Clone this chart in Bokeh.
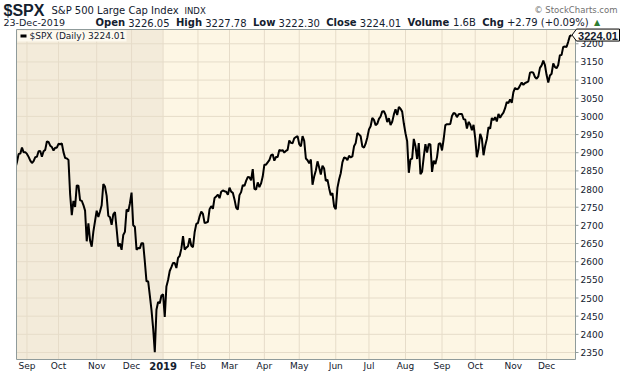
import numpy as np
from bokeh.plotting import figure
from bokeh.models import Range1d, ColumnDataSource
from bokeh.core.properties import value
from bokeh.embed import file_html
from bokeh.resources import INLINE

# ---------------- data ----------------
START = "2018-08-23"
END = "2019-12-23"
HOLIDAYS = ["2018-09-03", "2018-11-22", "2018-12-05", "2018-12-25", "2019-01-01",
            "2019-01-21", "2019-02-18", "2019-04-19", "2019-05-27", "2019-07-04",
            "2019-09-02", "2019-11-28"]

close_2018_08 = [2856.98, 2874.69, 2896.74, 2897.52, 2914.04, 2901.13, 2901.52]
close_2018_09 = [2896.72, 2888.60, 2878.05, 2871.68, 2877.13, 2887.89, 2888.92, 2904.18,
                 2904.98, 2888.80, 2904.31, 2907.95, 2930.75, 2929.67, 2919.37, 2915.56,
                 2905.97, 2914.00, 2913.98]
close_2018_10 = [2924.59, 2923.43, 2925.51, 2901.61, 2885.57, 2884.43, 2880.34, 2785.68,
                 2728.37, 2767.13, 2750.79, 2809.92, 2809.21, 2768.78, 2767.78, 2755.88,
                 2740.69, 2656.10, 2705.57, 2658.69, 2641.25, 2682.63, 2711.74]
close_2018_11 = [2740.37, 2723.06, 2738.31, 2755.45, 2813.89, 2806.83, 2781.01, 2726.22,
                 2722.18, 2701.58, 2730.20, 2736.27, 2690.73, 2641.89, 2649.93, 2632.56,
                 2673.45, 2682.17, 2743.79, 2737.80, 2760.17]
close_2018_12 = [2790.37, 2700.06, 2695.95, 2633.08, 2637.72, 2636.78, 2651.07, 2650.54,
                 2599.95, 2545.94, 2546.16, 2506.96, 2467.42, 2416.62, 2351.10, 2467.70,
                 2488.83, 2485.74, 2506.85]
close_2019_01 = [2510.03, 2447.89, 2531.94, 2549.69, 2574.41, 2584.96, 2596.64, 2596.26,
                 2582.61, 2610.30, 2616.10, 2635.96, 2670.71, 2632.90, 2638.70, 2642.33,
                 2664.76, 2643.85, 2640.00, 2681.05, 2704.10]
close_2019_02 = [2706.53, 2724.87, 2737.70, 2731.61, 2706.05, 2707.88, 2709.80, 2744.73,
                 2753.03, 2745.73, 2775.60, 2779.76, 2784.70, 2774.88, 2792.67, 2796.11,
                 2793.90, 2792.38, 2784.49]
close_2019_03 = [2803.69, 2792.81, 2789.65, 2771.45, 2748.93, 2743.07, 2783.30, 2791.52,
                 2810.92, 2808.48, 2822.48, 2832.94, 2832.57, 2824.23, 2854.88, 2800.71,
                 2798.36, 2818.46, 2805.37, 2815.44, 2834.40]
close_2019_04 = [2867.19, 2867.24, 2873.40, 2879.39, 2892.74, 2895.77, 2878.20, 2888.21,
                 2888.32, 2907.41, 2905.58, 2907.06, 2900.45, 2905.03, 2907.97, 2933.68,
                 2927.25, 2926.17, 2939.88, 2943.03, 2945.83]
close_2019_05 = [2923.73, 2917.52, 2945.64, 2932.47, 2884.05, 2879.42, 2870.72, 2881.40,
                 2811.87, 2834.41, 2850.96, 2876.32, 2859.53, 2840.23, 2864.36, 2856.27,
                 2822.24, 2826.06, 2802.39, 2783.02, 2788.86, 2752.06]
close_2019_06 = [2744.45, 2803.27, 2826.15, 2843.49, 2873.34, 2886.73, 2885.72, 2879.84,
                 2891.64, 2886.98, 2889.67, 2917.75, 2926.46, 2954.18, 2950.46, 2945.35,
                 2917.38, 2913.78, 2924.92, 2941.76]
close_2019_07 = [2964.33, 2973.01, 2995.82, 2990.41, 2975.95, 2979.63, 2993.07, 2999.91,
                 3013.77, 3014.30, 3004.04, 2984.42, 2995.11, 2976.61, 2985.03, 3005.47,
                 3019.56, 3003.67, 3025.86, 3020.97, 3013.18, 2980.38]
close_2019_08 = [2953.56, 2932.05, 2844.74, 2881.77, 2883.98, 2938.09, 2918.65, 2882.70,
                 2926.32, 2840.60, 2847.60, 2888.68, 2923.65, 2900.51, 2924.43, 2922.95,
                 2847.11, 2878.38, 2869.16, 2887.94, 2924.58, 2926.46]
close_2019_09 = [2906.27, 2937.78, 2976.00, 2978.71, 2978.43, 2979.39, 3000.93, 3009.57,
                 3007.39, 2997.96, 3005.70, 3006.73, 3006.79, 2992.07, 2991.78, 2966.60,
                 2984.87, 2977.62, 2961.79, 2976.74]
close_2019_10 = [2940.25, 2887.61, 2910.63, 2952.01, 2938.79, 2893.06, 2919.40, 2938.13,
                 2970.27, 2966.15, 2995.68, 2989.69, 2997.95, 2986.20, 3006.72, 2995.99,
                 3004.52, 3010.29, 3022.55, 3039.42, 3036.89, 3046.77, 3037.56]
close_2019_11 = [3066.91, 3078.27, 3074.62, 3076.78, 3085.18, 3093.08, 3087.01, 3091.84,
                 3094.04, 3096.63, 3120.46, 3122.03, 3120.18, 3108.46, 3103.54, 3110.29,
                 3133.64, 3140.52, 3153.63, 3140.98]
close_2019_12 = [3113.87, 3093.20, 3112.76, 3117.43, 3145.91, 3135.96, 3132.52, 3141.63,
                 3168.57, 3168.80, 3191.45, 3192.52, 3191.14, 3205.37, 3221.22, 3224.01]

month_labels = ["Sep", "Oct", "Nov", "Dec", "2019", "Feb", "Mar", "Apr", "May", "Jun",
                "Jul", "Aug", "Sep", "Oct", "Nov", "Dec"]
bold_label = "2019"
y_ticks = list(range(2350, 3201, 50))

title_sym = "$SPX"
title_name = "S&P 500 Large Cap Index"
title_exch = "INDX"
credit = "\u00a9 StockCharts.com"
date_text = "23-Dec-2019"
quote_fields = [("Open", "3226.05"), ("High", "3227.78"), ("Low", "3222.30"),
                ("Close", "3224.01"), ("Volume", "1.6B"), ("Chg", "+2.79 (+0.09%)")]
legend_text = "$SPX (Daily) 3224.01"
last_value = 3224.01

# ---------------- build series ----------------
closes = (close_2018_08 + close_2018_09 + close_2018_10 + close_2018_11 + close_2018_12 +
          close_2019_01 + close_2019_02 + close_2019_03 + close_2019_04 + close_2019_05 +
          close_2019_06 + close_2019_07 + close_2019_08 + close_2019_09 + close_2019_10 +
          close_2019_11 + close_2019_12)
days = np.arange(np.datetime64(START), np.datetime64(END) + 1)
cal = np.busdaycalendar(holidays=HOLIDAYS)
tdays = days[np.is_busday(days, busdaycal=cal)]
n = min(len(tdays), len(closes))
idx = np.arange(n)
closes = closes[:n]
months = tdays[:n].astype("datetime64[M]")
month_idx = [int(i) for i in range(1, n) if months[i] != months[i - 1]]
year_start = month_idx[month_labels.index(bold_label)]

# ---------------- layout helpers (canvas px -> data) ----------------
W, H = 620, 376
PL, PR, PT, PB = 16, 575, 29, 359          # plot area in canvas px
XLO, XHI = 0.7, 337.4                      # visible trading-day range
YLO, YHI = 2330.7, 3239.3                  # visible price range
KX = (PR - PL) / (XHI - XLO)
KY = (PB - PT) / (YHI - YLO)


def X(cx):
    return XLO + (cx - PL) / KX


def Y(cy):
    return YHI - (cy - PT) / KY


def CY(v):
    return PT + (YHI - v) * KY


TXT = "#13202e"
GRID = "#E6DCC9"
EDGE = "#8f9b9b"

p = figure(width=W, height=H, output_backend="svg", toolbar_location=None,
           x_range=Range1d(X(0), X(W)), y_range=Range1d(Y(H), Y(0)),
           x_axis_location=None, y_axis_location=None,
           min_border=0, min_border_left=0, min_border_right=0,
           min_border_top=0, min_border_bottom=0,
           background_fill_color="white", border_fill_color="white")
p.outline_line_color = None
p.grid.visible = False

# plot area and year shading
p.quad(left=[XLO], right=[XHI], bottom=[YLO], top=[YHI],
       fill_color="#FDF6E4", line_color=None)
p.quad(left=[XLO], right=[year_start], bottom=[YLO], top=[YHI],
       fill_color="#F3EBDA", line_color=None)

# grid lines
p.segment(x0=month_idx, x1=month_idx, y0=[YLO] * len(month_idx), y1=[YHI] * len(month_idx),
          line_color=GRID, line_width=1)
p.segment(x0=[XLO] * len(y_ticks), x1=[XHI] * len(y_ticks), y0=y_ticks, y1=y_ticks,
          line_color=GRID, line_width=1)

# price line
src = ColumnDataSource(dict(x=idx, y=closes))
p.line("x", "y", source=src, line_color="black", line_width=2)

# mask anything left of the plot area, then the frame
p.quad(left=[X(0)], right=[XLO], bottom=[Y(H)], top=[Y(0)], fill_color="white", line_color=None)
p.quad(left=[XLO], right=[XHI], bottom=[YLO], top=[YHI], fill_color=None,
       line_color=EDGE, line_width=1)

# right price axis
p.segment(x0=[XHI] * len(y_ticks), x1=[X(PR + 3)] * len(y_ticks), y0=y_ticks, y1=y_ticks,
          line_color=EDGE, line_width=1)
p.text(x=[X(PR + 5)] * len(y_ticks), y=y_ticks, text=[str(t) for t in y_ticks],
       text_font=value("DejaVu Sans"), text_font_size=value("9px"), text_color=TXT,
       text_baseline="middle", text_align="left")

# time axis
reg_idx = [i for i, l in zip(month_idx, month_labels) if l != bold_label]
reg_lab = [l for l in month_labels if l != bold_label]
p.text(x=reg_idx, y=[Y(365.5)] * len(reg_idx), text=reg_lab,
       text_font=value("DejaVu Sans"), text_font_size=value("9px"), text_color=TXT,
       text_baseline="middle", text_align="center")
p.text(x=[year_start], y=[Y(365.5)], text=[bold_label],
       text_font=value("DejaVu Sans"), text_font_size=value("10px"), text_font_style="bold",
       text_color=TXT, text_baseline="middle", text_align="center")

# legend box
p.quad(left=[X(17)], right=[X(126)], top=[Y(30)], bottom=[Y(41)],
       fill_color="#FDF9EE", line_color=None)
p.segment(x0=[X(20)], x1=[X(26)], y0=[Y(35.5)], y1=[Y(35.5)], line_color="black", line_width=3)
p.text(x=[X(29)], y=[Y(35.5)], text=[legend_text], text_font=value("DejaVu Sans"),
       text_font_size=value("9px"), text_color=TXT, text_baseline="middle", text_align="left")

# last value tag
ly = CY(last_value)
p.patch(x=[X(571.5), X(576), X(619), X(619), X(576)],
        y=[Y(ly), Y(ly - 6), Y(ly - 6), Y(ly + 6), Y(ly + 6)],
        fill_color="#FFFDF6", line_color="black", line_width=1)
p.text(x=[X(597.5)], y=[Y(ly + 0.5)], text=[f"{last_value:.2f}"],
       text_font=value("Liberation Sans"), text_font_size=value("11px"), text_font_style="bold",
       text_color=TXT, text_baseline="middle", text_align="center")


# header
def put(text, cx, cy, size, bold=False, color=TXT, font="DejaVu Sans", align="left"):
    p.text(x=[X(cx)], y=[Y(cy)], text=[text], text_font=value(font),
           text_font_size=value(f"{size}px"), text_font_style="bold" if bold else "normal",
           text_color=color, text_baseline="middle", text_align=align)


REG = {" ": 318, "+": 838, "-": 361, ".": 318, "(": 390, ")": 390, "%": 950, "B": 686}
BLD = {"O": 850, "p": 716, "e": 678, "n": 712, "H": 837, "i": 343, "g": 716, "h": 712,
       "L": 637, "o": 687, "w": 924, "C": 734, "l": 343, "s": 595, "V": 774, "u": 712,
       "m": 1042, " ": 348}


def width(t, bold, size):
    tab = BLD if bold else REG
    return sum(tab.get(c, 636) for c in t) * size / 1000.0


put(title_sym, 3, 9.5, 16, bold=True, font="Liberation Sans")
put(title_name, 51, 10, 10)
put(title_exch, 184, 10.5, 8.5)
put(credit, 617, 9.5, 8.5, color="#707070", align="right")

put(date_text, 3, 22, 9.5)
fs = 10
cx = 95
for lab, val in quote_fields:
    put(lab, cx, 22, fs, bold=True)
    cx += width(lab, True, fs) + width(" ", False, fs)
    put(val, cx, 22, fs)
    cx += width(val, False, fs) + 2 * width(" ", False, fs)
put("\u25b2", cx - 1, 21.5, 8, color="#2e7d32")

open("out.html", "w").write(file_html(p, INLINE))
